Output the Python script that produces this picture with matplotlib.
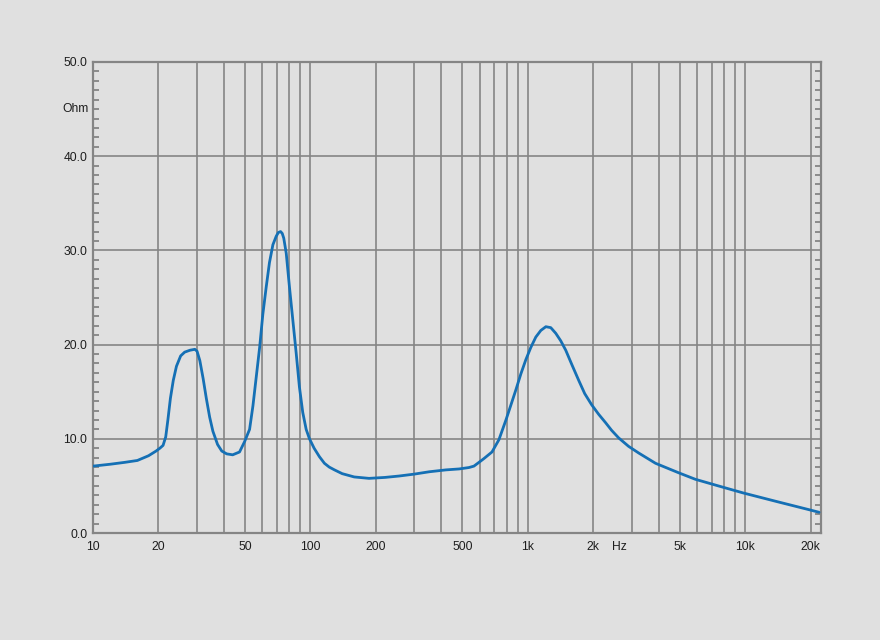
import matplotlib
matplotlib.use("Agg")
import matplotlib.pyplot as plt
import matplotlib.transforms as mtransforms

# Impedance curve (frequency in Hz, impedance in Ohm)
freq_hz = [10.0, 12.0, 14.0, 16.0, 18.0, 19.5, 20.3, 21.0, 21.6, 22.1, 22.7, 23.4,
           24.2, 25.3, 26.4, 27.9, 29.4, 30.1, 31.0, 32.1, 33.2, 34.4, 35.6, 37.4,
           39.1, 41.2, 43.9, 47.2, 49.8, 52.5, 54.4, 56.3, 58.4, 60.4, 62.6, 64.8,
           67.2, 69.6, 71.2, 72.9, 74.2, 75.4, 77.4, 80.1, 83.0, 86.0, 89.0, 92.2,
           95.6, 99.0, 104, 110, 116, 122, 129, 140, 159, 186, 220, 256, 300, 352,
           420, 483, 536, 565, 596, 628, 684, 736, 793, 836, 881, 929, 979, 1032,
           1088, 1147, 1210, 1275, 1344, 1417, 1494, 1592, 1714, 1826, 1967, 2117,
           2280, 2428, 2615, 2906, 3230, 3866, 4930, 5896, 7517, 9790, 14170,
           19450, 21850]
impedance = [7.1, 7.3, 7.5, 7.7, 8.2, 8.7, 9.0, 9.3, 10.2, 12.0, 14.3, 16.2,
             17.7, 18.8, 19.2, 19.4, 19.5, 19.3, 18.3, 16.4, 14.3, 12.3, 10.8, 9.4,
             8.7, 8.4, 8.3, 8.6, 9.7, 11.0, 13.5, 16.5, 19.7, 23.2, 26.1, 28.7,
             30.6, 31.5, 31.9, 32.0, 31.8, 31.3, 29.7, 26.1, 22.6, 19.1, 15.5, 12.8,
             11.0, 10.0, 9.0, 8.1, 7.4, 7.0, 6.7, 6.3, 5.95, 5.8, 5.9, 6.05, 6.25, 6.5,
             6.7, 6.8, 6.95, 7.1, 7.5, 7.9, 8.6, 9.9, 12.0, 13.6, 15.2, 16.9, 18.4, 19.7,
             20.8, 21.5, 21.9, 21.8, 21.2, 20.4, 19.4, 17.9, 16.2, 14.8, 13.6, 12.6,
             11.7, 10.9, 10.1, 9.2, 8.5, 7.4, 6.4, 5.7, 5.0, 4.25, 3.3,
             2.5, 2.2]

x_tick_pos = [10, 20, 50, 100, 200, 500, 1000, 2000, 2650, 5000, 10000, 20000]
x_tick_labels = ["10", "20", "50", "100", "200", "500", "1k", "2k", "Hz", "5k", "10k", "20k"]
x_grid = ([20, 30, 40, 50, 60, 70, 80, 90] + [100, 200, 300, 400, 500, 600, 700, 800, 900]
          + [1000, 2000, 3000, 4000, 5000, 6000, 7000, 8000, 9000] + [10000, 20000])
y_tick_pos = [0, 10, 20, 30, 40, 50]
y_tick_labels = ["0.0", "10.0", "20.0", "30.0", "40.0", "50.0"]
y_unit_label = "Ohm"
y_unit_pos = 45

bg = "#e0e0e0"
grid_c = "#858585"
curve_c = "#1570b5"
text_c = "#1e1e1e"

plt.rcParams["font.family"] = ["Liberation Sans", "DejaVu Sans"]
fig = plt.figure(figsize=(8.8, 6.4), dpi=100, facecolor=bg)
ax = fig.add_axes([93 / 880, 1 - 533 / 640, (821 - 93) / 880, (533 - 62) / 640])
ax.set_facecolor(bg)
ax.set_xscale("log")
ax.set_xlim(10, 22300)
ax.set_ylim(0, 50)

for gx in x_grid:
    ax.axvline(gx, color=grid_c, lw=1.2, zorder=1)
for gy in y_tick_pos[1:-1]:
    ax.axhline(gy, color=grid_c, lw=1.2, zorder=1)

ax.plot(freq_hz, impedance, color=curve_c, lw=2.0, zorder=3,
        solid_joinstyle="round", solid_capstyle="round")

for s in ax.spines.values():
    s.set_color(grid_c)
    s.set_linewidth(1.6)

ax.set_xticks(x_tick_pos)
ax.set_xticklabels(x_tick_labels)
ax.xaxis.set_minor_locator(matplotlib.ticker.NullLocator())
ax.tick_params(axis="x", length=0, pad=6, labelsize=8.7, colors=text_c)

ax.set_yticks(y_tick_pos)
ax.set_yticklabels(y_tick_labels)
ax.set_yticks(list(range(0, 51)), minor=True)
ax.tick_params(axis="y", which="major", length=0, pad=4, labelsize=8.7, colors=text_c)
ax.tick_params(axis="y", which="minor", direction="in", length=4, width=1.3,
               color=grid_c, left=True, right=True)

trans = mtransforms.blended_transform_factory(ax.transAxes, ax.transData)
ax.text(-0.006, y_unit_pos, y_unit_label, transform=trans, ha="right", va="center",
        fontsize=8.7, color=text_c)

fig.savefig("out.png", dpi=100, facecolor=bg)
